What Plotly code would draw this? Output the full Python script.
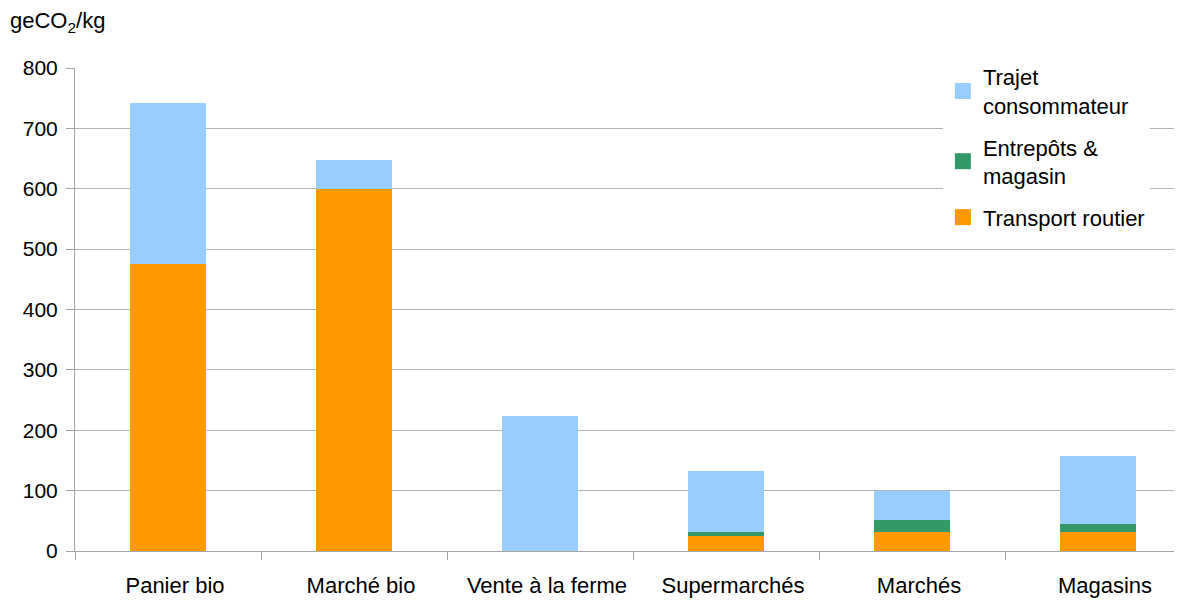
import plotly.graph_objects as go

# données (geCO2/kg)
categories = ["Panier bio", "Marché bio", "Vente à la ferme", "Supermarchés", "Marchés", "Magasins"]
transport_routier = [475, 600, 0, 25, 32, 32]
entrepots_magasin = [0, 0, 0, 6, 19, 13]
trajet_consommateur = [267, 47, 224, 101, 49, 112]

series = [
    ("Transport routier", transport_routier, "#ff9900"),
    ("Entrepôts &<br>magasin", entrepots_magasin, "#339966"),
    ("Trajet<br>consommateur", trajet_consommateur, "#99ccff"),
]

fig = go.Figure()
for name, vals, col in series:
    fig.add_trace(go.Bar(x=categories, y=vals, name=name, showlegend=False,
                         marker=dict(color=col, line=dict(width=0))))

# légende avec carrés plus grands
for name, vals, col in reversed(series):
    fig.add_trace(go.Scatter(x=[None], y=[None], mode="markers", name=name,
                             legendgroup=name,
                             marker=dict(symbol="square", size=16, color=col)))

# la page a une marge de 8px -> on compense ; le graphique déborde à droite
plot_w = 1107
fig.update_layout(
    barmode="stack",
    bargap=0.59,
    width=1174, height=593,
    margin=dict(l=67, r=0, t=60, b=50, autoexpand=False),
    paper_bgcolor="white", plot_bgcolor="white",
    font=dict(family="Liberation Sans, Arial, sans-serif", size=21, color="#000000"),
    showlegend=True,
    legend=dict(x=0.784, y=1.025, xanchor="left", yanchor="top",
                traceorder="grouped", bgcolor="white",
                font=dict(size=22), itemwidth=30, tracegroupgap=10),
    annotations=[dict(text="geCO<sub>2</sub>/kg", xref="paper", yref="paper",
                      x=-67/plot_w, y=(551 - 22) / 483, xanchor="left", yanchor="middle",
                      showarrow=False, font=dict(size=22))],
)
fig.update_xaxes(
    range=[-0.5, -0.5 + plot_w / 186],
    showline=True, linecolor="#a6a6a6", linewidth=1,
    ticks="outside", tickson="boundaries", ticklen=8, tickcolor="#a6a6a6",
    showgrid=False, tickfont=dict(size=22), ticklabelstandoff=15, ticklabelshift=7,
)
fig.update_yaxes(
    range=[0, 800], dtick=100,
    showline=True, linecolor="#a6a6a6", linewidth=1,
    ticks="outside", ticklen=8, tickcolor="#a6a6a6",
    showgrid=True, gridcolor="#b3b3b3", gridwidth=1,
    zeroline=False, tickfont=dict(size=21), ticklabelstandoff=4,
)

fig.write_html("out.html")
